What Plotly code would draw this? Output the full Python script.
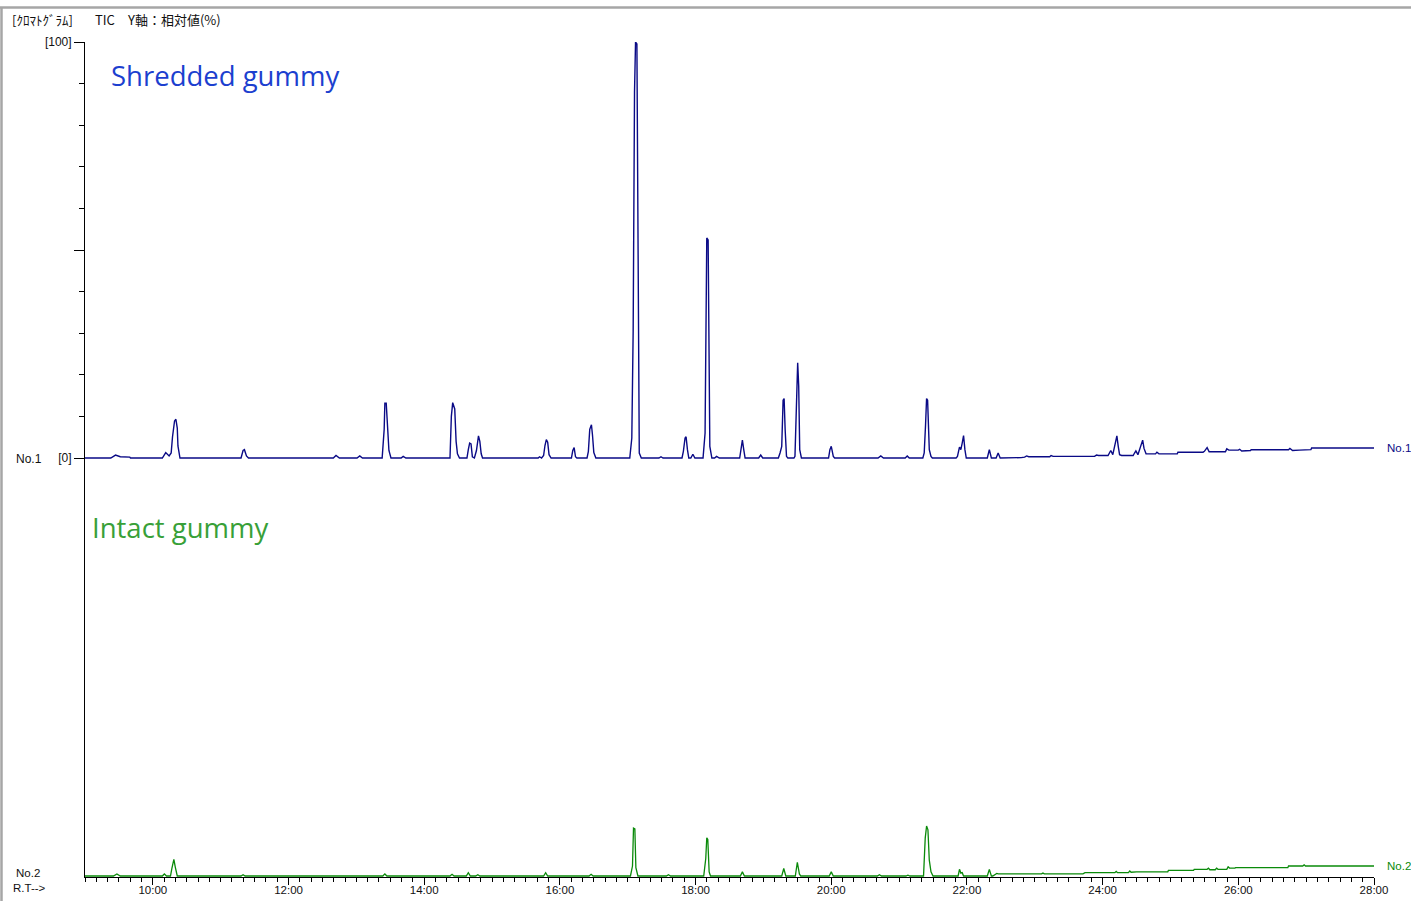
import plotly.graph_objects as go

# ---------------- data (retention time in minutes, relative intensity %) ----------------
shredded_rt = [
    9.00, 9.38, 9.45, 9.52, 9.66, 9.67, 10.14, 10.19, 10.24, 10.27, 10.29, 10.32, 10.34, 10.36, 10.37, 10.40,
    11.30, 11.33, 11.35, 11.38, 11.41, 12.66, 12.70, 12.75, 13.01, 13.05, 13.09,
    13.38, 13.41, 13.42, 13.44, 13.46, 13.48, 13.51, 13.66, 13.69, 13.73,
    14.38, 14.40, 14.42, 14.45, 14.47, 14.49, 14.52, 14.63, 14.65, 14.67, 14.69, 14.71, 14.74,
    14.77, 14.80, 14.82, 14.84, 14.86, 15.68, 15.70, 15.73, 15.76, 15.78, 15.80, 15.82, 15.84, 15.87,
    16.17, 16.19, 16.21, 16.23, 16.25, 16.40, 16.42, 16.44, 16.465, 16.48, 16.50, 16.53,
    17.03, 17.06, 17.08, 17.10, 17.115, 17.135, 17.155, 17.17, 17.20, 17.46, 17.49, 17.52,
    17.80, 17.82, 17.845, 17.86, 17.88, 17.90, 17.93, 17.96, 17.99,
    18.11, 18.14, 18.15, 18.165, 18.185, 18.20, 18.21, 18.24, 18.28, 18.31, 18.35,
    18.65, 18.67, 18.69, 18.71, 18.73, 18.93, 18.96, 18.99,
    19.22, 19.245, 19.27, 19.29, 19.305, 19.32, 19.34, 19.36,
    19.45, 19.465, 19.48, 19.495, 19.505, 19.52, 19.535, 19.56,
    19.96, 19.98, 20.00, 20.03, 20.05, 20.69, 20.73, 20.77, 21.09, 21.12, 21.15,
    21.35, 21.37, 21.39, 21.405, 21.42, 21.43, 21.445, 21.47, 21.49,
    21.84, 21.86, 21.89, 21.91, 21.93, 21.95, 21.97, 21.99,
    22.30, 22.33, 22.36, 22.43, 22.46, 22.49, 22.80, 22.85, 22.88, 22.91, 23.22, 23.24, 23.27,
    23.88, 23.91, 23.94, 24.08, 24.10, 24.12, 24.15, 24.18, 24.21, 24.23, 24.25, 24.28,
    24.45, 24.47, 24.49, 24.52, 24.56, 24.59, 24.61, 24.64, 24.78, 24.80, 24.83,
    25.10, 25.11, 25.48, 25.50, 25.54, 25.57, 25.81, 25.83, 25.86, 26.00, 26.02, 26.05,
    26.18, 26.19, 26.74, 26.76, 26.80, 26.90, 27.07, 27.08, 28.00,
]
shredded_int = [
    0, 0, 0.7, 0.3, 0.2, 0, 0, 1.3, 0.5, 1.2, 5.1, 8.9, 9.3, 7.2, 2.9, 0,
    0, 1.8, 2.0, 0.5, 0, 0, 0.6, 0, 0, 0.5, 0,
    0, 6.9, 13.2, 13.2, 6.6, 1.8, 0, 0, 0.4, 0,
    0, 10.0, 13.3, 11.8, 4.0, 1.0, 0, 0, 2.0, 3.6, 3.4, 0.3, 0,
    1.8, 5.3, 4.0, 1.0, 0, 0, 0.3, 0, 0.6, 3.0, 4.4, 3.8, 0.8, 0,
    0, 1.8, 2.5, 0.3, 0, 0, 1.6, 6.9, 8.0, 5.6, 1.3, 0,
    0, 4.8, 30.4, 88.0, 100, 99.5, 47.7, 1.2, 0, 0, 0.3, 0,
    0, 1.6, 4.8, 5.1, 2.0, 0, 0, 0.9, 0,
    0, 6.0, 31.3, 52.9, 52.4, 22.9, 2.8, 0, 0, 0.4, 0,
    0, 2.8, 4.3, 2.0, 0, 0, 0.7, 0,
    0, 1.2, 2.8, 13.9, 14.3, 6.9, 0.4, 0,
    0, 0.4, 9.6, 22.9, 22.9, 17.3, 2.0, 0,
    0, 2.0, 2.8, 0.4, 0, 0, 0.5, 0, 0, 0.5, 0,
    0, 1.2, 8.0, 14.3, 13.9, 8.0, 2.0, 0.4, 0,
    0, 0.4, 2.6, 2.0, 3.6, 5.4, 2.0, 0,
    0, 2.0, 0, 0, 1.2, 0, 0.1, 0.2, 0.5, 0.3, 0.3, 0.6, 0.4,
    0.4, 0.7, 0.6, 0.6, 1.2, 1.8, 0.8, 2.8, 5.3, 2.8, 0.8, 0.6,
    0.6, 1.2, 1.7, 0.8, 2.8, 4.3, 2.3, 1.0, 1.0, 1.4, 1.0,
    1.0, 1.4, 1.4, 1.6, 2.5, 1.5, 1.5, 2.2, 1.9, 1.9, 2.1, 1.7,
    1.8, 2.0, 2.0, 2.3, 1.8, 1.9, 2.0, 2.4, 2.4,
]

intact_rt = [
    9.00, 9.42, 9.47, 9.52, 10.14, 10.17, 10.20, 10.26, 10.28, 10.31, 10.33, 10.36,
    11.30, 11.33, 11.36, 13.39, 13.42, 13.45, 14.38, 14.41, 14.44, 14.62, 14.65, 14.68, 14.76, 14.79, 14.82,
    15.76, 15.79, 15.82, 16.43, 16.46, 16.49,
    17.04, 17.07, 17.085, 17.105, 17.12, 17.15, 17.57, 17.60, 17.63,
    18.12, 18.15, 18.165, 18.18, 18.20, 18.22, 18.66, 18.69, 18.72,
    19.27, 19.30, 19.33, 19.47, 19.50, 19.53, 19.55, 19.97, 20.00, 20.03,
    20.68, 20.71, 20.74, 21.10, 21.13, 21.16,
    21.36, 21.385, 21.405, 21.425, 21.445, 21.47, 21.50,
    21.87, 21.89, 21.91, 21.93, 21.95, 22.30, 22.33, 22.36, 22.38, 22.44, 22.46,
    23.10, 23.12, 23.14, 23.71, 23.74, 24.18, 24.20, 24.22, 24.38, 24.40, 24.42, 24.50,
    24.96, 24.97, 25.34, 25.35, 25.54, 25.56, 25.58, 25.66, 25.68, 25.70,
    25.83, 25.85, 25.87, 25.95, 25.96, 26.73, 26.74, 26.95, 26.97, 26.99, 28.00,
]
intact_int = [
    0, 0, 0.5, 0, 0, 0.5, 0, 0, 1.8, 4.0, 2.2, 0,
    0, 0.3, 0, 0, 0.5, 0, 0, 0.4, 0, 0, 0.8, 0, 0, 0.3, 0,
    0, 0.8, 0, 0, 0.4, 0,
    0, 2.4, 11.5, 11.3, 2.0, 0, 0, 0.3, 0,
    0, 4.2, 9.2, 8.8, 1.0, 0, 0, 1.0, 0,
    0, 1.8, 0, 0, 3.3, 0.5, 0, 0, 1.0, 0,
    0, 0.3, 0, 0, 0.2, 0,
    0, 9.1, 12.0, 11.1, 3.8, 1.0, 0,
    0, 1.6, 0.7, 0.8, 0, 0, 1.6, 0, 0, 0.6, 0.5,
    0.5, 0.7, 0.5, 0.5, 0.8, 0.8, 1.1, 0.8, 0.8, 1.2, 0.9, 1.0,
    1.0, 1.35, 1.35, 1.6, 1.6, 1.9, 1.5, 1.5, 1.9, 1.6,
    1.6, 2.2, 1.9, 1.9, 2.0, 2.0, 2.4, 2.4, 2.7, 2.4, 2.4,
]

x_tick_vals = [10, 12, 14, 16, 18, 20, 22, 24, 26, 28]
x_tick_text = ["10:00", "12:00", "14:00", "16:00", "18:00", "20:00", "22:00", "24:00", "26:00", "28:00"]
y_tick_vals = [0, 50, 100]
y_tick_text = ["[0]", "", "[100]"]

# ---------------- layout geometry (pixels) ----------------
W, H = 1411, 901
L, R = 85, 1374
T = 42            # pixel of 100 % in the upper panel
B = 877           # bottom of plotting area
SPLIT = 460       # pixel between panels
UP_ZERO = 458
LOW_ZERO = 876
PX_PER_PCT = (UP_ZERO - T) / 100.0
PH = B - T
PW = R - L


def px(xp):
    return (xp - L) / PW


def py(yp):
    return (B - yp) / PH


split_frac = (B - SPLIT) / PH

NAVY = "#0a0a86"
GREEN = "#0a8a0a"
TXT_BLUE = "#1c3fcf"
TXT_GREEN = "#38a038"

fig = go.Figure()
fig.add_trace(go.Scatter(x=shredded_rt, y=shredded_int, mode="lines", xaxis="x", yaxis="y2",
                         line=dict(color=NAVY, width=1.4), hoverinfo="skip", showlegend=False))
fig.add_trace(go.Scatter(x=intact_rt, y=intact_int, mode="lines", xaxis="x", yaxis="y",
                         line=dict(color=GREEN, width=1.3), hoverinfo="skip", showlegend=False))

tick_font = dict(family="Liberation Sans, Arial, sans-serif", size=12, color="#111111")
xtick_font = dict(family="Liberation Sans, Arial, sans-serif", size=11.5, color="#111111")

fig.update_layout(
    width=W, height=H,
    margin=dict(l=L, r=W - R, t=T, b=H - B, pad=0, autoexpand=False),
    paper_bgcolor="white", plot_bgcolor="white",
    xaxis=dict(
        range=[9, 28], anchor="y", showgrid=False, zeroline=False, automargin=False,
        showline=True, linecolor="black", linewidth=1,
        tickmode="array", tickvals=x_tick_vals, ticktext=x_tick_text,
        ticks="outside", ticklen=7, tickwidth=1, tickcolor="black",
        tickfont=xtick_font, ticklabelstandoff=-5,
        minor=dict(dtick=1 / 6, tick0=10, ticks="outside", ticklen=3.5, tickwidth=1, tickcolor="black"),
    ),
    yaxis=dict(
        domain=[0, split_frac],
        range=[-(B - LOW_ZERO) / PX_PER_PCT, (LOW_ZERO - SPLIT) / PX_PER_PCT],
        showgrid=False, zeroline=False, showticklabels=False, ticks="", automargin=False,
        showline=True, linecolor="black", linewidth=1, anchor="x",
    ),
    yaxis2=dict(
        domain=[split_frac, 1],
        range=[-(SPLIT - UP_ZERO) / PX_PER_PCT, 100],
        showgrid=False, zeroline=False, anchor="x", automargin=False,
        showline=True, linecolor="black", linewidth=1,
        tickmode="array", tickvals=y_tick_vals, ticktext=y_tick_text,
        ticks="outside", ticklen=10, tickwidth=1, tickcolor="black",
        tickfont=tick_font,
        minor=dict(dtick=10, tick0=0, ticks="outside", ticklen=5, tickwidth=1, tickcolor="black"),
    ),
)

ann = []


def add_text(text, xp, yp, color="#111111", size=12, family="Liberation Sans, Arial, sans-serif",
             xanchor="left"):
    ann.append(dict(text=text, x=px(xp), y=py(yp), xref="paper", yref="paper",
                    xanchor=xanchor, yanchor="middle", showarrow=False,
                    font=dict(color=color, size=size, family=family)))


jp = "Noto Sans CJK JP, sans-serif"
add_text("[ｸﾛﾏﾄｸﾞﾗﾑ]", 10, 20, size=13, family=jp)
add_text("TIC", 93, 20, size=13, family=jp)
add_text("Y軸：相対値(%)", 125, 20, size=13, family=jp)
add_text("No.1", 14, 459)
add_text("No.2", 14, 873, size=11.5)
add_text("R.T-->", 11, 888, size=11.5)
add_text("No.1", 1385, 448, color=NAVY, size=11.5)
add_text("No.2", 1385, 866, color=GREEN, size=11.5)
add_text("Shredded gummy", 109, 76, color=TXT_BLUE, size=27.5, family="Open Sans, sans-serif")
add_text("Intact gummy", 90, 527, color=TXT_GREEN, size=27.5, family="Open Sans, sans-serif")
fig.update_layout(annotations=ann)

# window frame (gray border of the original software screen)
frame = dict(color="#a6a6a6", width=2.5)
fig.update_layout(shapes=[
    dict(type="line", xref="paper", yref="paper", x0=px(0), x1=px(W), y0=py(7.5), y1=py(7.5), line=frame),
    dict(type="line", xref="paper", yref="paper", x0=px(1.5), x1=px(1.5), y0=py(7.5), y1=py(H), line=frame),
])

fig.write_html("out.html", config={"displayModeBar": False},
               post_script="document.body.style.margin='0';document.body.style.overflow='hidden';")
